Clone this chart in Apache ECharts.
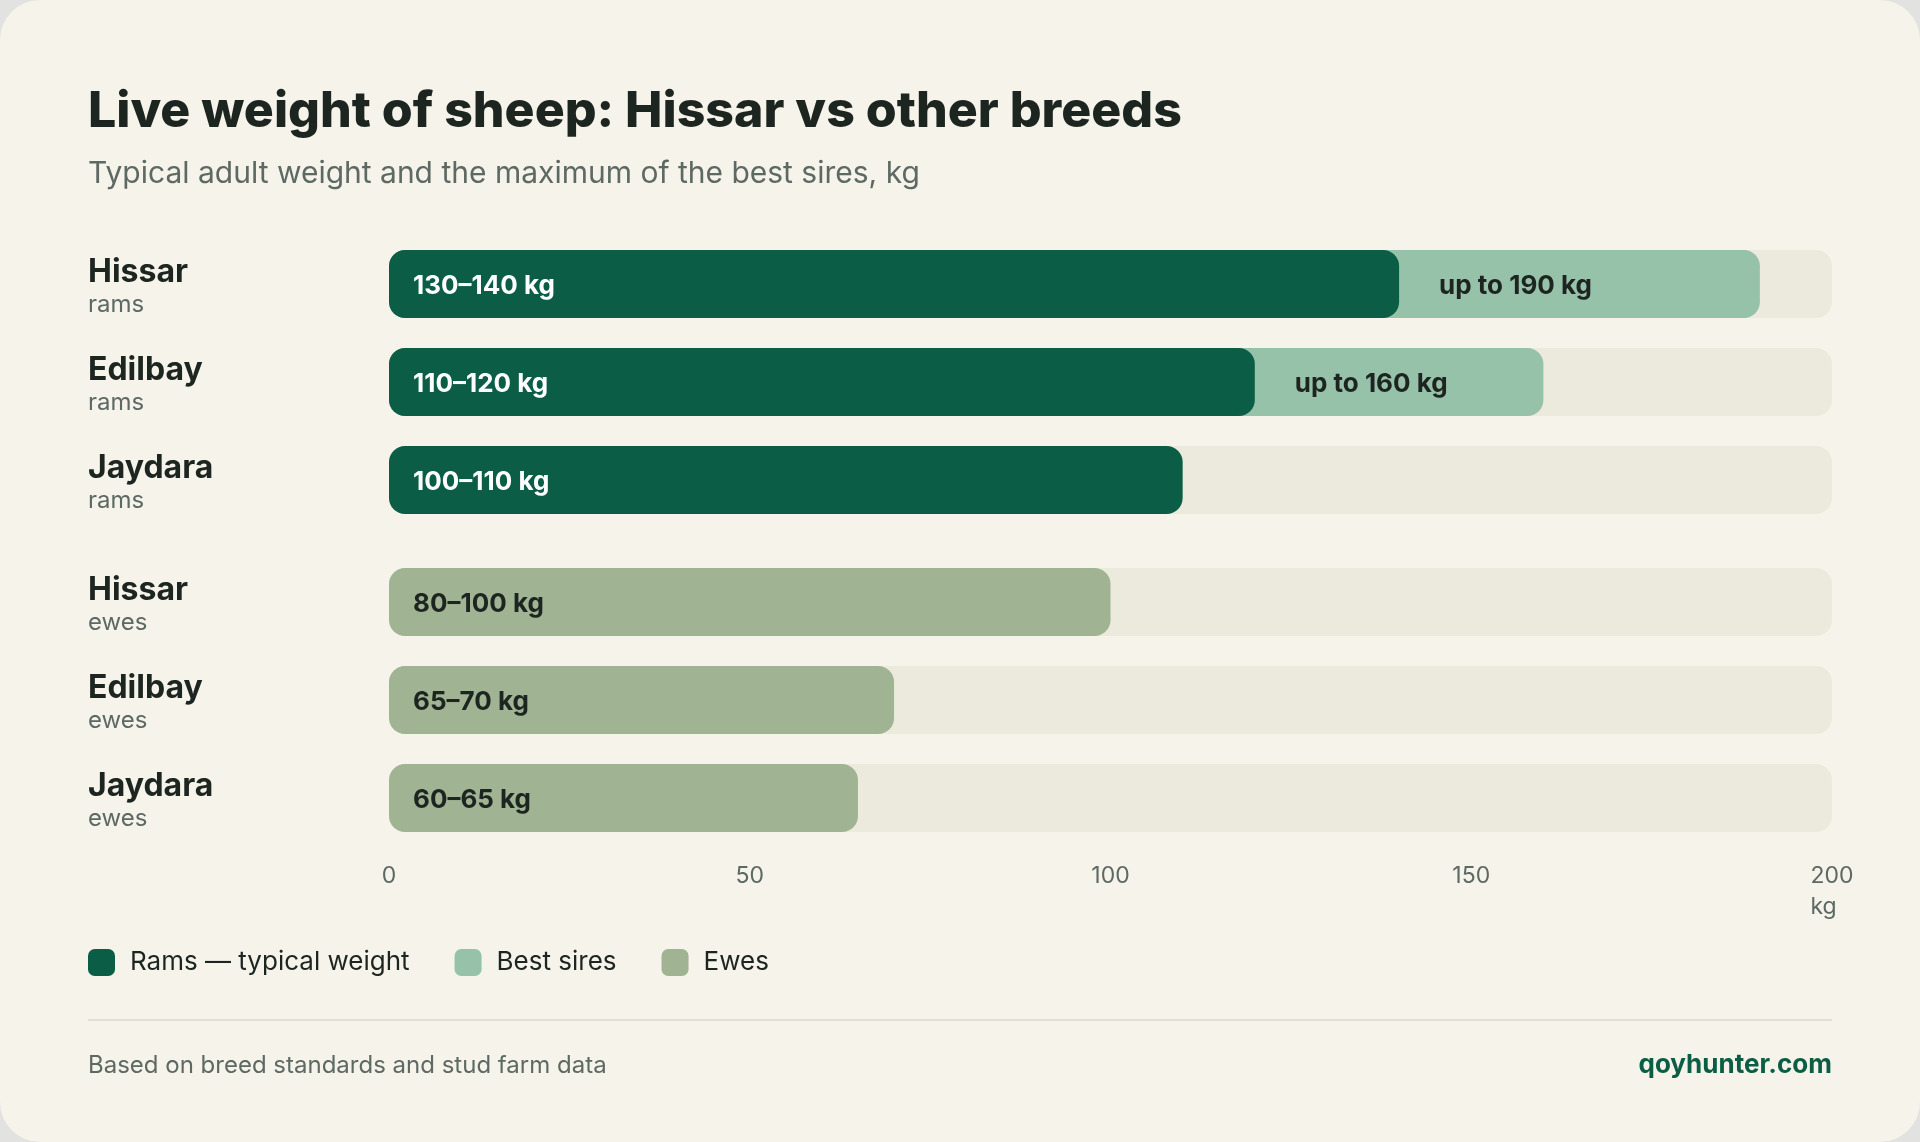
<!DOCTYPE html>
<html>
<head>
<meta charset="utf-8">
<script src="https://cdn.jsdelivr.net/npm/echarts@6/dist/echarts.min.js"></script>
<style>
  html, body { margin: 0; padding: 0; background: #e2e2e0; }
  #chart { width: 1920px; height: 1142px; background: #f6f3eb; border-radius: 40px; overflow: hidden; }
</style>
</head>
<body>
<div id="chart"></div>
<script>
// data
const ramBreeds = ['Hissar', 'Edilbay', 'Jaydara'];
const ramTypical = [140, 120, 110];
const ramTypicalLabels = ['130–140 kg', '110–120 kg', '100–110 kg'];
const bestSires = [190, 160, null];
const bestSiresLabels = ['up to 190 kg', 'up to 160 kg', ''];
const eweBreeds = ['Hissar', 'Edilbay', 'Jaydara'];
const eweWeights = [100, 70, 65];
const eweLabels = ['80–100 kg', '65–70 kg', '60–65 kg'];
const axisMax = 200;
const axisStep = 50;

const FONT = 'Inter, "Noto Sans", sans-serif';
const C_RAM = '#0b5e45';
const C_SIRE = '#97c2aa';
const C_EWE = '#a0b392';
const C_TRACK = '#ece9dd';
const C_TEXT = '#1d2521';
const C_MUTED = '#5d6963';

const BAR_W = 68;
const RADIUS = 16;

// space left after the typical weight, only used to place the "up to" label
const siresExtra = bestSires.map((v, i) => (v == null ? null : v - ramTypical[i]));

function catAxis(gridIndex, data, sub) {
  return {
    type: 'category', gridIndex, data, inverse: true,
    axisLine: { show: false }, axisTick: { show: false },
    axisLabel: {
      margin: 301, align: 'left',
      formatter: v => `{b|${v}}\n{s|${sub}}`,
      rich: {
        b: { fontFamily: FONT, fontSize: 32, fontWeight: 700, color: C_TEXT, lineHeight: 42 },
        s: { fontFamily: FONT, fontSize: 24, color: C_MUTED, lineHeight: 24 }
      }
    }
  };
}

function valAxis(gridIndex, show) {
  return {
    type: 'value', gridIndex, min: 0, max: axisMax, interval: axisStep,
    splitLine: { show: false }, axisLine: { show: false }, axisTick: { show: false },
    axisLabel: {
      show: show, margin: 14, color: C_MUTED, fontFamily: FONT, fontSize: 23, lineHeight: 31,
      formatter: v => (v === axisMax ? `${v}\n{u|kg}` : `${v}`),
      rich: { u: { align: 'left', fontFamily: FONT, fontSize: 23, color: C_MUTED, lineHeight: 31 } }
    }
  };
}

const barBase = { barWidth: BAR_W, barGap: '-100%', itemStyle: { borderRadius: RADIUS } };
const barLabel = { show: true, position: 'insideLeft', offset: [0, 2], fontFamily: FONT, fontSize: 26, fontWeight: 700 };

const chart = echarts.init(document.getElementById('chart'));
chart.setOption({
  animation: false,
  title: [
    { text: 'Live weight of sheep: Hissar vs other breeds', left: 88, top: 87, padding: 0,
      textStyle: { fontFamily: FONT, fontSize: 50, fontWeight: 800, color: C_TEXT } },
    { text: 'Typical adult weight and the maximum of the best sires, kg', left: 88, top: 159, padding: 0,
      textStyle: { fontFamily: FONT, fontSize: 30, fontWeight: 400, color: C_MUTED } }
  ],
  legend: {
    left: 88, top: 949, padding: 0, icon: 'roundRect', itemWidth: 27, itemHeight: 27, itemGap: 45,
    data: ['Rams — typical weight', 'Best sires', 'Ewes'],
    textStyle: { fontFamily: FONT, fontSize: 26, color: C_TEXT, padding: [0, 0, 0, 10] }
  },
  grid: [
    { left: 389, right: 88, top: 235, height: 294 },
    { left: 389, right: 88, top: 553, height: 294 }
  ],
  xAxis: [valAxis(0, false), valAxis(1, true)],
  yAxis: [catAxis(0, ramBreeds, 'rams'), catAxis(1, eweBreeds, 'ewes')],
  series: [
    Object.assign({}, barBase, {
      name: 'track-rams', type: 'bar', xAxisIndex: 0, yAxisIndex: 0, silent: true,
      data: ramBreeds.map(() => axisMax), itemStyle: { color: C_TRACK, borderRadius: RADIUS }
    }),
    Object.assign({}, barBase, {
      name: 'Best sires', type: 'bar', xAxisIndex: 0, yAxisIndex: 0,
      data: bestSires, itemStyle: { color: C_SIRE, borderRadius: RADIUS }
    }),
    Object.assign({}, barBase, {
      name: 'Rams — typical weight', type: 'bar', xAxisIndex: 0, yAxisIndex: 0, stack: 'ram',
      data: ramTypical, itemStyle: { color: C_RAM, borderRadius: RADIUS },
      label: Object.assign({}, barLabel, {
        distance: 24, color: '#ffffff', formatter: p => ramTypicalLabels[p.dataIndex]
      })
    }),
    Object.assign({}, barBase, {
      name: 'sires-label', type: 'bar', xAxisIndex: 0, yAxisIndex: 0, stack: 'ram', silent: true,
      data: siresExtra, itemStyle: { color: 'rgba(0,0,0,0)' },
      label: Object.assign({}, barLabel, {
        distance: 40, color: C_TEXT, formatter: p => bestSiresLabels[p.dataIndex]
      })
    }),
    Object.assign({}, barBase, {
      name: 'track-ewes', type: 'bar', xAxisIndex: 1, yAxisIndex: 1, silent: true,
      data: eweBreeds.map(() => axisMax), itemStyle: { color: C_TRACK, borderRadius: RADIUS }
    }),
    Object.assign({}, barBase, {
      name: 'Ewes', type: 'bar', xAxisIndex: 1, yAxisIndex: 1,
      data: eweWeights, itemStyle: { color: C_EWE, borderRadius: RADIUS },
      label: Object.assign({}, barLabel, {
        distance: 24, color: C_TEXT, formatter: p => eweLabels[p.dataIndex]
      })
    })
  ],
  graphic: [
    { type: 'rect', silent: true, shape: { x: 88, y: 1019, width: 1744, height: 2 }, style: { fill: '#e2dfd2' } },
    { type: 'text', left: 88, top: 1054,
      style: { text: 'Based on breed standards and stud farm data', fontFamily: FONT, fontSize: 24, fill: C_MUTED } },
    { type: 'text', right: 88, top: 1052,
      style: { text: 'qoyhunter.com', fontFamily: FONT, fontSize: 26, fontWeight: 700, fill: C_RAM } }
  ]
});
</script>
</body>
</html>
